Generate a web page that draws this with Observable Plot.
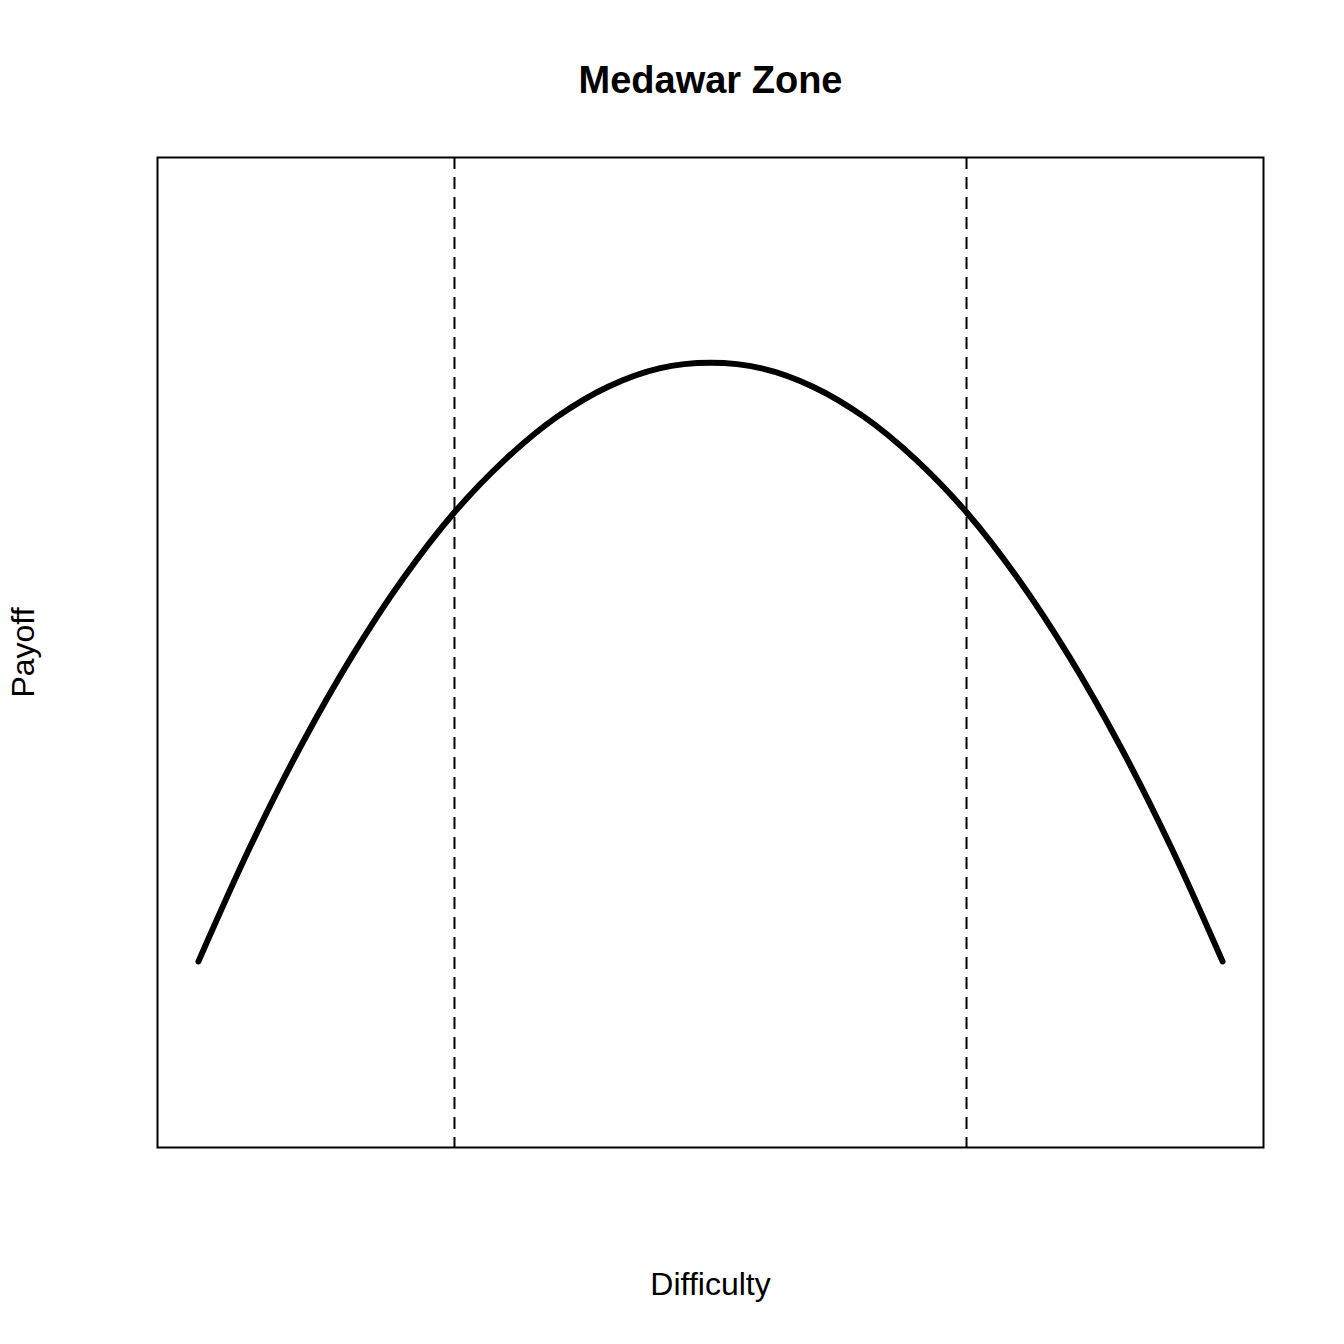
<!DOCTYPE html>
<html>
<head>
<meta charset="utf-8">
<script src="https://cdn.jsdelivr.net/npm/d3@7"></script>
<script src="https://cdn.jsdelivr.net/npm/@observablehq/plot@0.6"></script>
<style>
  html, body { margin: 0; padding: 0; background: #fff; }
  svg { display: block; }
</style>
</head>
<body>
<div id="chart"></div>
<script>
const title = "Medawar Zone";
const xLabel = "Difficulty";
const yLabel = "Payoff";

// curve values
const difficulty = [0, 0.05, 0.1, 0.15, 0.2, 0.25, 0.3, 0.35, 0.4, 0.45, 0.5,
                    0.55, 0.6, 0.65, 0.7, 0.75, 0.8, 0.85, 0.9, 0.95, 1];
const payoff = [0.163, 0.287, 0.398, 0.496, 0.581, 0.653, 0.711, 0.757, 0.790, 0.810, 0.816,
                0.810, 0.790, 0.757, 0.711, 0.653, 0.581, 0.496, 0.398, 0.287, 0.163];
const zoneBounds = [0.25, 0.75];

const curve = difficulty.map((d, i) => ({difficulty: d, payoff: payoff[i]}));

const pad = 0.04;
const chart = Plot.plot({
  width: 1344,
  height: 1344,
  marginLeft: 157,
  marginRight: 81,
  marginTop: 157,
  marginBottom: 197,
  style: {fontFamily: "Liberation Sans, Arial, sans-serif", background: "#fff"},
  x: {domain: [0 - pad, 1 + pad], axis: null},
  y: {domain: [0 - pad, 1 + pad], axis: null},
  marks: [
    Plot.ruleX(zoneBounds, {stroke: "black", strokeWidth: 2, strokeDasharray: "12,8"}),
    Plot.line(curve, {x: "difficulty", y: "payoff", stroke: "black", strokeWidth: 6,
                      curve: "catmull-rom", strokeLinecap: "round", strokeLinejoin: "round"}),
    Plot.frame({stroke: "black", strokeWidth: 2}),
    Plot.text([title], {frameAnchor: "top", dy: -77, fontSize: 38, fontWeight: "bold", fill: "black", lineAnchor: "middle", textAnchor: "middle"}),
    Plot.text([xLabel], {frameAnchor: "bottom", dy: 137, fontSize: 32, fill: "black", lineAnchor: "middle", textAnchor: "middle"}),
    Plot.text([yLabel], {frameAnchor: "left", dx: -134, rotate: -90, fontSize: 32, fill: "black", lineAnchor: "middle", textAnchor: "middle"})
  ]
});
document.getElementById("chart").appendChild(chart);
</script>
</body>
</html>
